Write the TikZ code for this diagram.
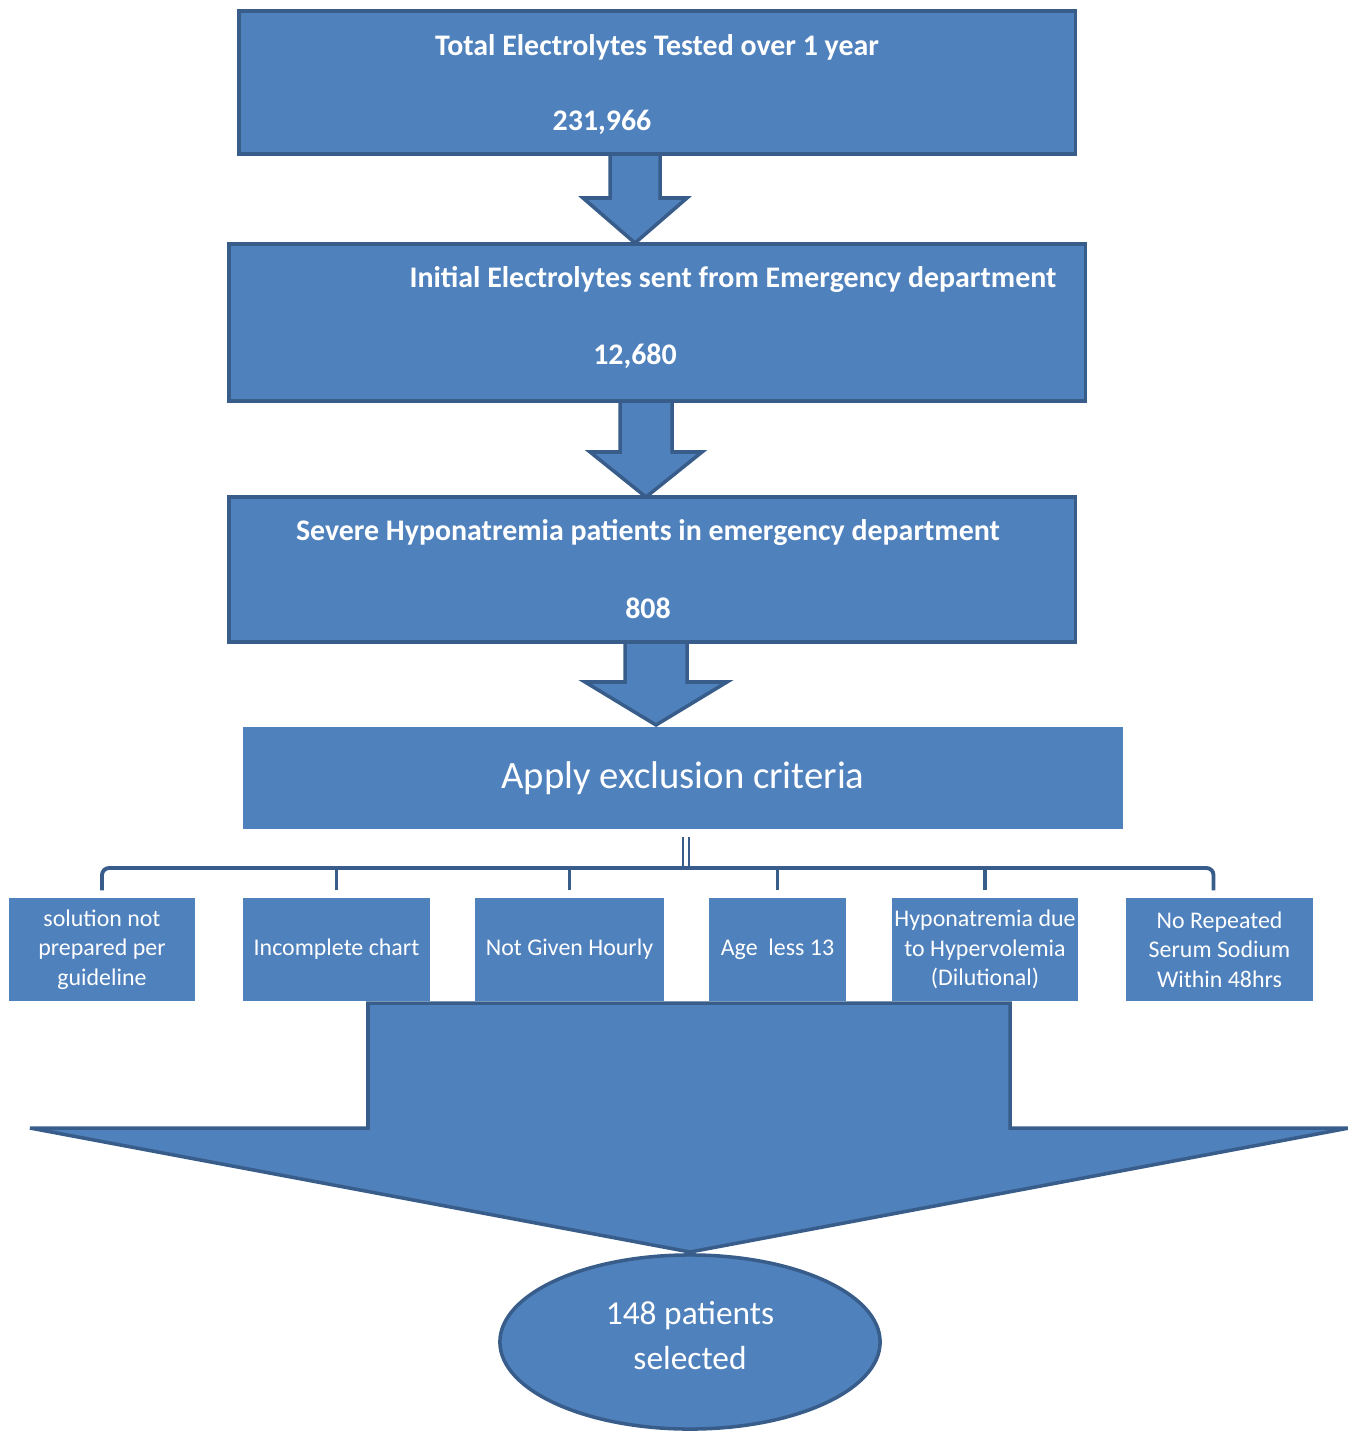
\documentclass[tikz,border=0pt]{standalone}
\usepackage{fontspec}
\setmainfont{Carlito}
\usetikzlibrary{shapes.geometric,calc}

\definecolor{boxblue}{HTML}{4F81BD}
\definecolor{edgeblue}{HTML}{385D8A}

\tikzset{
    stagebox/.style={draw=edgeblue, line width=1pt, fill=boxblue, inner sep=0pt},
    critbox/.style={fill=boxblue, inner sep=0pt},
    exclbox/.style={fill=boxblue, text=white, align=center, inner sep=0pt,
        minimum height=1.03cm, font=\fontsize{6.8}{8.4}\selectfont},
    stagetext/.style={text=white, inner sep=0pt, font=\bfseries\fontsize{8.5}{10}\selectfont},
    blockarrow/.style={fill=boxblue, draw=edgeblue, line width=1pt, line join=miter},
    link/.style={draw=edgeblue, line width=1.1pt}
}

% block arrow: x centre, top, head start, tip, half shaft, half head
\newcommand{\blockdown}[6]{%
    \filldraw[blockarrow] (#1-#5,#2) -- (#1-#5,#3) -- (#1-#6,#3) -- (#1,#4)
        -- (#1+#6,#3) -- (#1+#5,#3) -- (#1+#5,#2);
}

\begin{document}
\begin{tikzpicture}[x=0.01cm, y=-0.01cm]
    \useasboundingbox (0,0) rectangle (1347,1431);

    % Draw arrows between stages
    \blockdown{635}{152}{198}{243}{25}{52}
    \blockdown{646}{399}{452}{497}{26}{56}
    \blockdown{656}{640}{682}{725}{31}{71}

    % Stage boxes
    \node[stagebox, minimum width=8.36cm, minimum height=1.43cm] (total) at (657,82.5) {};
    \node[stagetext] (total-t) at (657,47) {Total Electrolytes Tested over 1 year};
    \node[stagetext] (total-n) at (602,122) {231,966};

    \node[stagebox, minimum width=8.56cm, minimum height=1.57cm] (initial) at (657,322.5) {};
    \node[stagetext] (initial-t) at (733,280) {Initial Electrolytes sent from Emergency department};
    \node[stagetext] (initial-n) at (635,356) {12,680};

    \node[stagebox, minimum width=8.46cm, minimum height=1.45cm] (severe) at (652,569.5) {};
    \node[stagetext] (severe-t) at (648,533) {Severe Hyponatremia patients in emergency department};
    \node[stagetext] (severe-n) at (648,608) {808};

    \node[critbox, minimum width=8.8cm, minimum height=1.02cm, text=white,
          font=\fontsize{11}{13}\selectfont] (crit) at (683,778) {Apply exclusion criteria};

    % Big arrow to the result
    \filldraw[blockarrow] (368,1003) -- (368,1128) -- (30,1128) -- (690,1252)
        -- (1349,1128) -- (1010,1128) -- (1010,1003) -- cycle;

    % Exclusion criteria
    \node[exclbox, minimum width=1.86cm] (ex1) at (102,949.5) {solution not\\prepared per\\guideline};
    \node[exclbox, minimum width=1.87cm] (ex2) at (336.5,949.5) {Incomplete chart};
    \node[exclbox, minimum width=1.89cm] (ex3) at (569.5,949.5) {Not Given Hourly};
    \node[exclbox, minimum width=1.37cm] (ex4) at (777.5,949.5) {Age\ \ less 13};
    \node[exclbox, minimum width=1.86cm] (ex5) at (985,949.5) {Hyponatremia due\\to Hypervolemia\\(Dilutional)};
    \node[exclbox, minimum width=1.87cm] (ex6) at (1219.5,949.5) {No Repeated\\Serum Sodium\\Within 48hrs};

    % Tree from the criteria box
    \coordinate (bar) at (686,868);
    \draw[link, line width=0.8pt] ($(crit.south -| bar)+(-3,7)$) -- ($(bar)+(-3,0)$);
    \draw[link, line width=0.8pt] ($(crit.south -| bar)+(3,7)$) -- ($(bar)+(3,0)$);
    \draw[link, rounded corners=2pt] ($(ex1.north)+(0,-7)$) |- (bar) -| ($(ex6.north)+(-6,-7)$);
    \foreach \n in {2,...,5}
       {
            \draw[link] (ex\n.north |- bar) -- ($(ex\n.north)+(0,-7)$);
       }

    % Result
    \node[ellipse, fill=boxblue, draw=edgeblue, line width=1pt, minimum width=3.8cm,
          minimum height=1.74cm] (result) at (690,1342) {};
    \node[text=white, align=center, inner sep=0pt,
          font=\fontsize{9.5}{12.8}\selectfont] (result-t) at (690,1336) {148 patients\\selected};
\end{tikzpicture}
\end{document}
